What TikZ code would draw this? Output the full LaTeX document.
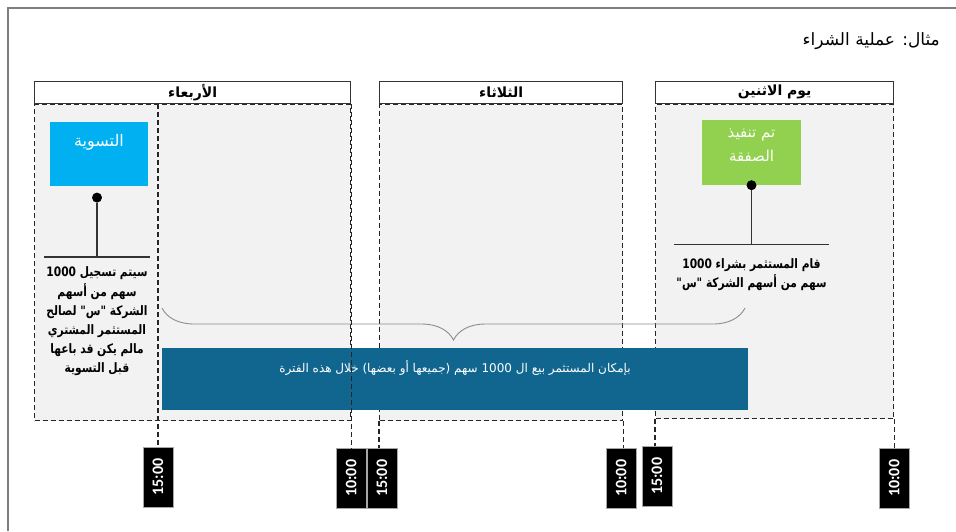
\documentclass[tikz,border=0pt]{standalone}
\usepackage{fontspec}
\setmainfont{Liberation Sans}
\newfontfamily\arabicfont[Script=Arabic]{DejaVu Sans}
\newfontfamily\arabicnarrow[Script=Arabic, FakeStretch=0.82]{DejaVu Sans}
\newfontfamily\clockfont{Carlito}
\TeXXeTstate=1
\usetikzlibrary{positioning, decorations.pathreplacing}
\newcommand{\rtl}[1]{\beginR#1\endR}
\newcommand{\num}[1]{\beginL#1\endL{}}
\definecolor{zonegray}{HTML}{F2F2F2}
\definecolor{settlecyan}{HTML}{00B0F0}
\definecolor{dealgreen}{HTML}{92D050}
\definecolor{periodblue}{HTML}{11668F}
\definecolor{framegray}{HTML}{7F7F7F}
\tikzset{
  dayhead/.style   = {draw=black!80, line width=1.3pt, fill=white, minimum height=22pt,
                      inner sep=0pt, font=\arabicfont\bfseries\fontsize{14}{16}\selectfont},
  dayzone/.style   = {draw=black!85, line width=1.1pt, dash pattern=on 5pt off 3pt,
                      fill=zonegray, anchor=north west, inner sep=0pt},
  timebox/.style   = {draw=black!35, fill=black, text=white, minimum width=30pt,
                      minimum height=60pt, inner sep=0pt,
                      font=\clockfont\bfseries\fontsize{16}{18}\selectfont},
  clocktick/.style = {draw=black!85, line width=1.1pt, dash pattern=on 5pt off 3pt},
  stem/.style      = {draw=black!80, line width=1.6pt},
  stemdot/.style   = {circle, fill=black, inner sep=0pt, minimum size=10pt},
  notetext/.style  = {align=center, inner xsep=2pt, inner ysep=10pt,
                      font=\arabicnarrow\bfseries\fontsize{13}{19.2}\selectfont},
  settlebox/.style = {fill=settlecyan, text=white, minimum width=98pt, anchor=north,
                      inner ysep=10pt, text height=14pt, text depth=30pt,
                      font=\arabicfont\fontsize{16}{18}\selectfont},
  dealbox/.style   = {fill=dealgreen, text=white, minimum width=99pt, anchor=north,
                      align=center, inner ysep=9pt, text depth=14pt,
                      font=\arabicfont\fontsize{15}{24}\selectfont},
  periodbar/.style = {fill=periodblue, text=white, minimum width=586pt, anchor=north,
                      inner ysep=12pt, text height=12pt, text depth=26pt,
                      font=\arabicfont\fontsize{12}{14}\selectfont}
}

\begin{document}
\begin{tikzpicture}[x=1pt, y=-1pt]
  \useasboundingbox (0,0) rectangle (956,531);
  % page frame
  \draw[framegray, line width=1.5pt] (8,531) -- (8,8) -- (956,8);

  % Title
  \node[anchor=east, inner sep=0pt, font=\arabicfont\fontsize{17}{19}\selectfont]
    (title) at (940,41) {\rtl{مثال: عملية الشراء}};

  % Day zones
  \node[dayzone, minimum width=316pt, minimum height=316pt] (wedzone) at (34,104) {};
  \node[dayzone, minimum width=243pt, minimum height=316pt] (tuezone) at (379,104) {};
  \node[dayzone, minimum width=238pt, minimum height=314pt] (monzone) at (655,104) {};

  % Day headers
  \node[dayhead, minimum width=316pt, anchor=south west] (wedhead) at (wedzone.north west) {\rtl{الأربعاء}};
  \node[dayhead, minimum width=243pt, anchor=south west] (tuehead) at (tuezone.north west) {\rtl{الثلاثاء}};
  \node[dayhead, minimum width=238pt, anchor=south west] (monhead) at (monzone.north west) {\rtl{يوم الاثنين}};

  % Time marks
  \node[timebox, anchor=north] (wed15) at (158,447) {\rotatebox{90}{15:00}};
  \node[timebox, below=27pt of wedzone.south east] (wed10) {\rotatebox{90}{10:00}};
  \node[timebox, below=27pt of tuezone.south west, xshift=3pt] (tue15) {\rotatebox{90}{15:00}};
  \node[timebox, below=27pt of tuezone.south east, xshift=-2pt] (tue10) {\rotatebox{90}{10:00}};
  \node[timebox, below=27pt of monzone.south west, xshift=2pt] (mon15) {\rotatebox{90}{15:00}};
  \node[timebox, below=29pt of monzone.south east] (mon10) {\rotatebox{90}{10:00}};

  \draw[clocktick] (wed15.north |- wedhead.south) -- (wed15.north);
  \draw[clocktick] (tuezone.south west) -- (tuezone.south west |- tue15.north);
  \draw[clocktick] (tuezone.south east) -- (tuezone.south east |- tue10.north);
  \draw[clocktick] (monzone.south west) -- (monzone.south west |- mon15.north);
  \draw[clocktick] (monzone.south east) -- (mon10.north);

  % Settlement
  \node[settlebox] (settle) at (99,122) {\rtl{التسوية}};
  \node[stemdot, below=6pt of settle, xshift=-2pt] (settledot) {};
  \node[notetext, below=54pt of settledot] (settlenote)
    {\rtl{سيتم تسجيل \num{1000}}\\\rtl{سهم من أسهم}\\\rtl{الشركة "س" لصالح}\\
     \rtl{المستثمر المشتري}\\\rtl{مالم يكن قد باعها}\\\rtl{قبل التسوية}};
  \draw[stem] (settledot) -- (settledot |- settlenote.north);
  \draw[stem] (settlenote.north west) -- (settlenote.north east);

  % Trade
  \node[dealbox] (deal) at (751.5,120) {\rtl{تم تنفيذ}\\\rtl{الصفقة}};
  \node[stemdot] (dealdot) at (deal.south) {};
  \node[notetext, inner ysep=14pt, below=54pt of dealdot] (buynote)
    {\rtl{قام المستثمر بشراء \num{1000}}\\\rtl{سهم من أسهم الشركة "س"}};
  \draw[stem] (dealdot) -- (dealdot |- buynote.north);
  \draw[stem] (buynote.north west) -- (buynote.north east);

  % Holding period
  \coordinate (spanright) at (745,308);
  \coordinate (spanleft) at (162,308);
  \draw[decorate, decoration={brace, amplitude=32pt}, draw=black!45, line width=0.9pt]
    (spanright) -- (spanleft);
  \node[periodbar] (period) at (455,348)
    {\rtl{بإمكان المستثمر بيع ال \num{1000} سهم (جميعها أو بعضها) خلال هذه الفترة}};
  \draw[clocktick] (wedzone.north east) -- (wed10.north);
\end{tikzpicture}
\end{document}
